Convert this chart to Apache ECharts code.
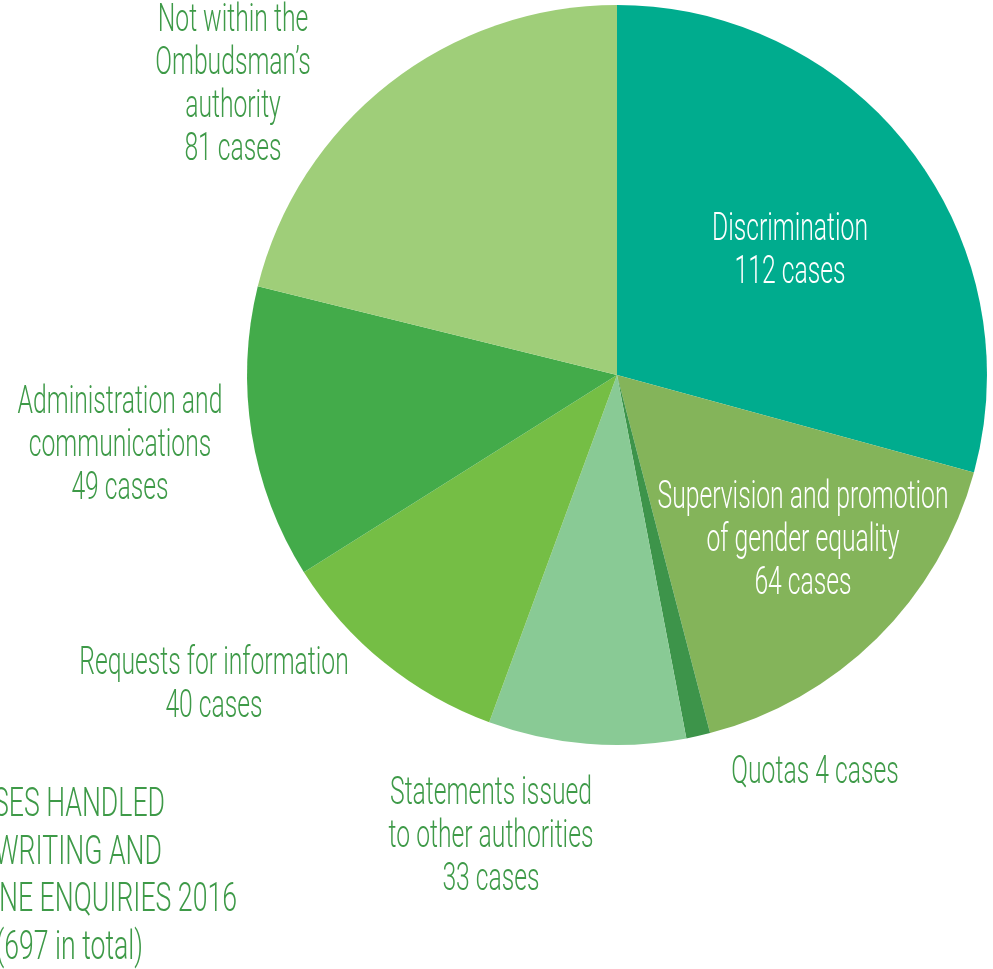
<!DOCTYPE html>
<html>
<head>
<meta charset="utf-8">
<script src="https://cdn.jsdelivr.net/npm/echarts@6/dist/echarts.min.js"></script>
<style>
  html, body { margin: 0; padding: 0; background: #fff; }
  #main { width: 993px; height: 969px; }
</style>
</head>
<body>
<div id="main"></div>
<script>
// case categories, clockwise from 12 o'clock
const categories = [
  'Discrimination',
  'Supervision and promotion\nof gender equality',
  'Quotas',
  'Statements issued\nto other authorities',
  'Requests for information',
  'Administration and\ncommunications',
  'Not within the\nOmbudsman\u2019s\nauthority'
];
const cases = [112, 64, 4, 33, 40, 49, 81];
const sliceColors = ['#00ac8e', '#84b45a', '#3d944a', '#89ca95', '#75be45', '#43ab4a', '#9fce79'];
const titleLines = ['CASES HANDLED', 'IN WRITING AND', 'PHONE ENQUIRIES 2016', '(697 in total)'];

const FONT = 'Roboto, "DejaVu Sans Condensed", sans-serif';
const FSIZE = 38;
const TSIZE = 41;
const GREEN = '#3e9a48';

// label block centres and which labels sit on the slice
const labelPos = [
  [790, 252], [803, 541], [815, 773], [491, 837], [214, 686], [120, 446], [233, 86]
];
const insideLabel = [true, true, false, false, false, false, false];
const titleRight = [165, 162, 237, 143];

// squeeze the font to look like the condensed face of the original
const ctx = document.createElement('canvas').getContext('2d');
ctx.font = '300 ' + FSIZE + 'px ' + FONT;
const squeeze = 291 / ctx.measureText('Supervision and promotion').width;

let myChart = echarts.init(document.getElementById('main'));

function labelText(i) {
  return i === 2 ? categories[i] + ' ' + cases[i] + ' cases' : categories[i] + '\n' + cases[i] + ' cases';
}

const labels = categories.map((c, i) => ({
  type: 'text',
  x: labelPos[i][0],
  y: labelPos[i][1],
  scaleX: squeeze,
  z: 10,
  style: {
    text: labelText(i),
    x: 0, y: 0,
    fill: insideLabel[i] ? '#fff' : GREEN,
    font: '300 ' + FSIZE + 'px ' + FONT,
    lineHeight: 43,
    textAlign: 'center',
    textVerticalAlign: 'middle'
  }
}));

const title = titleLines.map((t, i) => ({
  type: 'text',
  x: titleRight[i],
  y: 806 + i * 47.5,
  scaleX: squeeze,
  style: {
    text: t, x: 0, y: 0,
    fill: GREEN,
    font: '300 ' + TSIZE + 'px ' + FONT,
    textAlign: 'right',
    textVerticalAlign: 'middle'
  }
}));

myChart.setOption({
  animation: false,
  series: [
    {
      type: 'pie',
      center: [617, 375],
      radius: [0, 370],
      startAngle: 90,
      clockwise: true,
      data: categories.map((name, i) => ({
        name: name,
        value: cases[i],
        itemStyle: { color: sliceColors[i] }
      })),
      label: { show: false },
      labelLine: { show: false }
    }
  ],
  graphic: labels.concat(title)
});
</script>
</body>
</html>
